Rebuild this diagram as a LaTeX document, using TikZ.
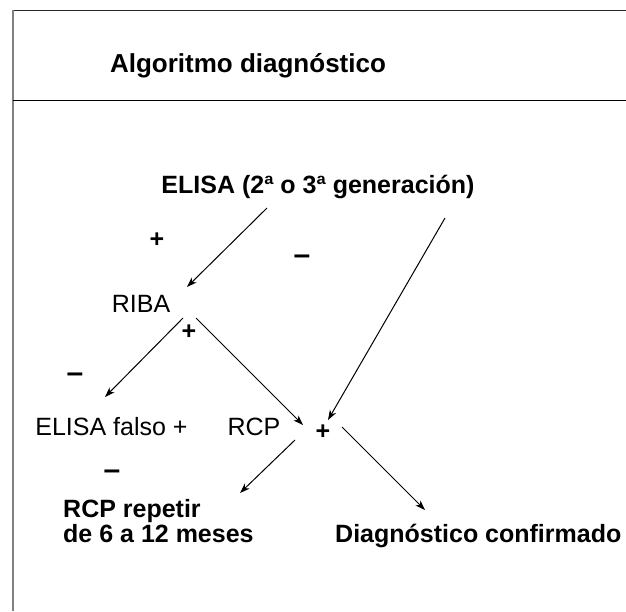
\documentclass[tikz,border=0pt]{standalone}
\usepackage{fontspec}
\setmainfont{Liberation Sans}
\usetikzlibrary{arrows.meta}

\begin{document}
\begin{tikzpicture}[x=1pt, y=-1pt,
		lbl/.style={inner sep=0pt, font=\fontsize{25}{25}\selectfont},
		bld/.style={lbl, font=\fontsize{25}{25}\selectfont\bfseries},
		sgn/.style={bld, anchor=center},
		arr/.style={-{Stealth[length=10pt, width=7pt, inset=3pt]}, line width=1pt}]
			\useasboundingbox (0,0) rectangle (626,611);

			% frame
			\draw [line width=1pt, black!85](12,10)--(626,10);
			\draw [line width=2pt, black!50](13,10)--(13,611);
			\draw [line width=1pt](13,100)--(626,100);

			\node (title)[bld, anchor=base, font=\fontsize{26}{26}\selectfont\bfseries] at (248,72) {Algoritmo diagnóstico};

			\node (header)[bld, anchor=base] at (318,193) {ELISA (2ª o 3ª generación)};
			\node (riba)[lbl, anchor=base] at (141,312) {RIBA};
			\node (falso)[lbl, anchor=base] at (111.5,435) {ELISA falso +};
			\node (rcp)[lbl, anchor=base] at (254,435) {RCP};
			\node (repetir)[bld, anchor=base west, align=left] at (63,542) {RCP repetir\\de 6 a 12 meses};
			\node (confirmado)[bld, anchor=base west] at (335,542) {Diagnóstico confirmado};

			\node (plusA)[sgn] at (157,240) {+};
			\node (minusA)[sgn, font=\fontsize{30}{30}\selectfont\bfseries] at (302,260) {–};
			\node (plusB)[sgn] at (189,332) {+};
			\node (minusB)[sgn, font=\fontsize{30}{30}\selectfont\bfseries] at (75,378) {–};
			\node (plusC)[sgn] at (323,432) {+};
			\node (minusC)[sgn, font=\fontsize{30}{30}\selectfont\bfseries] at (112,475) {–};

			\draw [arr]([shift={(-51,15)}]header.base)--([shift={(46,-25)}]riba.base);
			\draw [arr]([shift={(127,25)}]header.base)--([shift={(5,-12)}]plusC.center);

			\draw [arr]([shift={(42,6)}]riba.base)--([shift={(-6.5,-38)}]falso.base);
			\draw [arr]([shift={(55,6)}]riba.base)--([shift={(-20,-7)}]plusC.center);

			\draw [arr]([shift={(-28,8)}]plusC.center)--([shift={(177,-49)}]repetir.base west);
			\draw [arr]([shift={(19,-5)}]plusC.center)--([shift={(90,-32)}]confirmado.base west);
		\end{tikzpicture}
\end{document}
